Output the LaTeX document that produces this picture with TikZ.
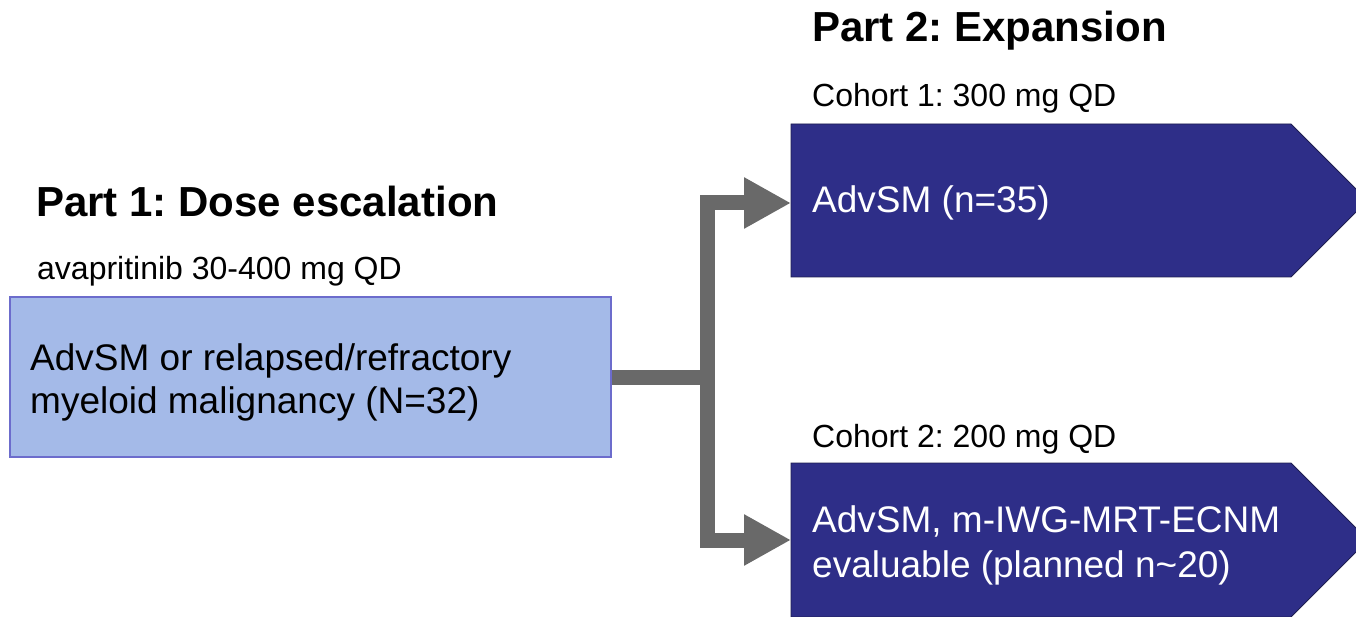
\documentclass[tikz,border=0pt]{standalone}
\usepackage{fontspec}
\setmainfont{Liberation Sans}
\frenchspacing
\usetikzlibrary{arrows.meta}
\definecolor{lightbox}{HTML}{A4BAE8}
\definecolor{lightedge}{HTML}{6C6CCC}
\definecolor{darkbox}{HTML}{2E2E88}
\definecolor{darkedge}{HTML}{1E1E50}
\definecolor{conngray}{HTML}{696969}
\tikzset{
  title/.style={anchor=base west,inner sep=0pt,font=\fontsize{42}{50}\selectfont\bfseries},
  sub/.style={anchor=base west,inner sep=0pt,font=\fontsize{32}{38}\selectfont},
  boxtext/.style={anchor=base west,inner sep=0pt,font=\fontsize{37}{44}\selectfont},
  lbox/.style={draw=lightedge,line width=1.3pt,fill=lightbox,inner sep=0pt,
    minimum width=601pt,minimum height=160pt},
  arm/.style={draw=darkedge,line width=0.8pt,fill=darkbox},
  conn/.style={draw=conngray,line width=15pt,line join=miter},
  arr/.style={conn,-{Triangle[length=47pt,width=48pt]}}
}
\begin{document}
\begin{tikzpicture}[x=1pt,y=-1pt]
\useasboundingbox (0,0) rectangle (1356,617);
% boxes
\node[lbox] (box) at (310.5,377) {};
\draw[arm] (791,124) -- (1291,124) -- (1367.5,200.5) -- (1291,277) -- (791,277) -- cycle;
\draw[arm] (791,463) -- (1291,463) -- (1368,540) -- (1291,617) -- (791,617) -- cycle;
\coordinate (p1w) at (791,203);
\coordinate (p2w) at (791,540);
% connectors
\coordinate (j) at (707,377);
\draw[conn] (box.east) -- (j);
\draw[arr] (j) |- (p1w);
\draw[arr] (j) |- (p2w);
% texts
\node[title] (t2) at (812,42) {Part 2: Expansion};
\node[sub] (c1) at (812,107) {Cohort 1: 300 mg QD};
\node[title] (t1) at (36,217) {Part 1: Dose escalation};
\node[sub] (dose) at (37,280) {avapritinib 30-400 mg QD};
\node[boxtext] (bt) at (30,370) {\begin{tabular}[t]{@{}l@{}}AdvSM or relapsed/refractory\\[-0.5pt]myeloid malignancy (N=32)\end{tabular}};
\node[boxtext,text=white] (p1t) at (812,213) {AdvSM (n=35)};
\node[sub] (c2) at (812,447) {Cohort 2: 200 mg QD};
\node[boxtext,text=white] (p2t) at (812,532) {\begin{tabular}[t]{@{}l@{}}AdvSM, m-IWG-MRT-ECNM\\[1pt]evaluable (planned n\textasciitilde20)\end{tabular}};
\end{tikzpicture}
\end{document}
